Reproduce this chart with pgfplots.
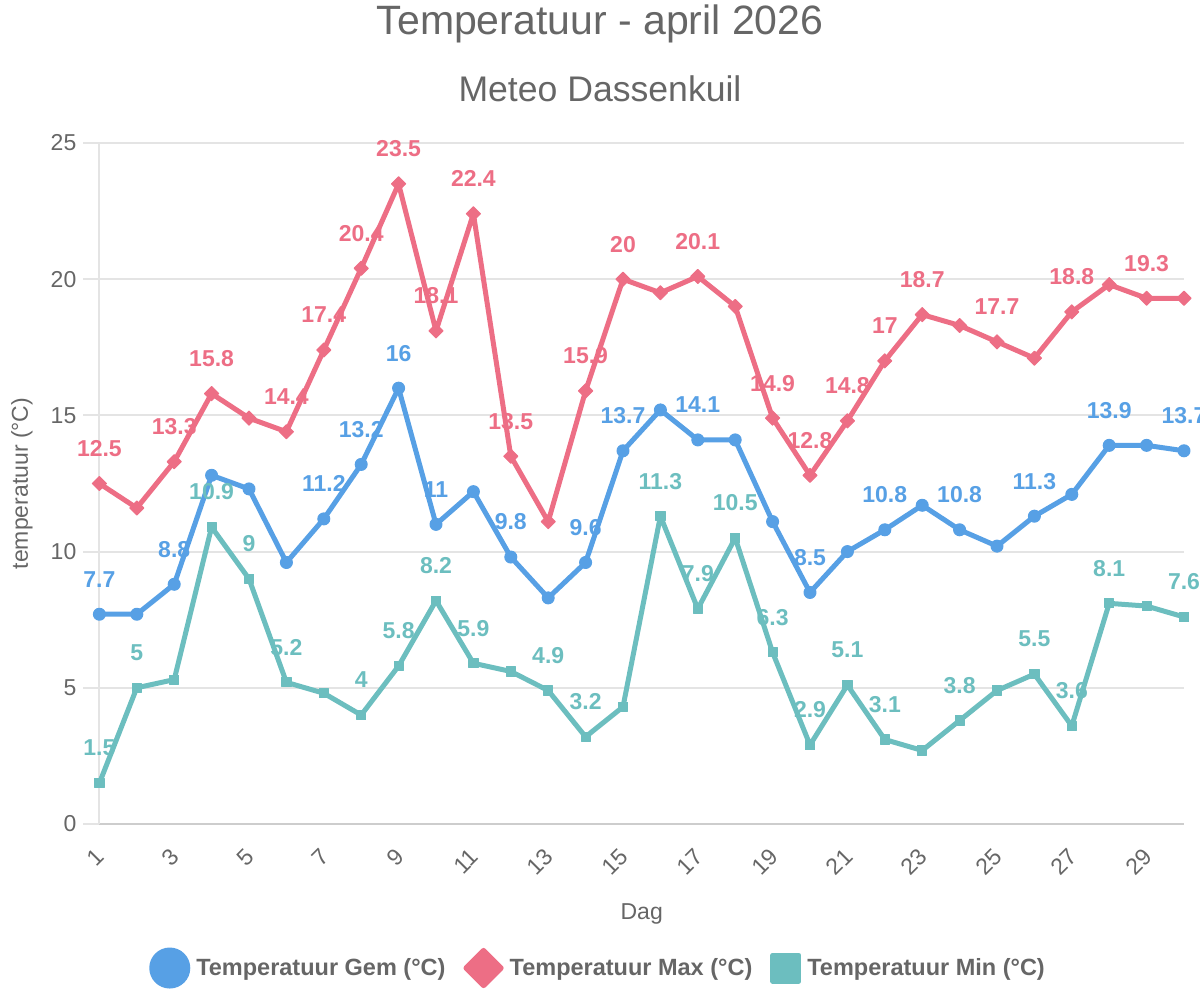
\documentclass[border=0pt]{standalone}
\usepackage{pgfplots}
\pgfplotsset{compat=1.18}
\usepackage{pgfplotstable}
\usepackage{fontspec}
\setmainfont{Liberation Sans}

\definecolor{cgem}{RGB}{87,160,229}
\definecolor{cmax}{RGB}{237,110,133}
\definecolor{cmin}{RGB}{108,190,191}
\definecolor{ctext}{RGB}{102,102,102}
\definecolor{cgrid}{RGB}{228,228,228}
\definecolor{caxis}{RGB}{205,205,205}

% day, temperature, lab = 1 where the value is printed above the point
\pgfplotstableread{
dag temp lab
1  7.7  1
2  7.7  0
3  8.8  1
4  12.8 0
5  12.3 0
6  9.6  0
7  11.2 1
8  13.2 1
9  16   1
10 11   1
11 12.2 0
12 9.8  1
13 8.3  0
14 9.6  1
15 13.7 1
16 15.2 0
17 14.1 1
18 14.1 0
19 11.1 0
20 8.5  1
21 10.0 0
22 10.8 1
23 11.7 0
24 10.8 1
25 10.2 0
26 11.3 1
27 12.1 0
28 13.9 1
29 13.9 0
30 13.7 1
}\gemtable

\pgfplotstableread{
dag temp lab
1  12.5 1
2  11.6 0
3  13.3 1
4  15.8 1
5  14.9 0
6  14.4 1
7  17.4 1
8  20.4 1
9  23.5 1
10 18.1 1
11 22.4 1
12 13.5 1
13 11.1 0
14 15.9 1
15 20   1
16 19.5 0
17 20.1 1
18 19.0 0
19 14.9 1
20 12.8 1
21 14.8 1
22 17   1
23 18.7 1
24 18.3 0
25 17.7 1
26 17.1 0
27 18.8 1
28 19.8 0
29 19.3 1
30 19.3 0
}\maxtable

\pgfplotstableread{
dag temp lab
1  1.5  1
2  5    1
3  5.3  0
4  10.9 1
5  9    1
6  5.2  1
7  4.8  0
8  4    1
9  5.8  1
10 8.2  1
11 5.9  1
12 5.6  0
13 4.9  1
14 3.2  1
15 4.3  0
16 11.3 1
17 7.9  1
18 10.5 1
19 6.3  1
20 2.9  1
21 5.1  1
22 3.1  1
23 2.7  0
24 3.8  1
25 4.9  0
26 5.5  1
27 3.6  1
28 8.1  1
29 8.0  0
30 7.6  1
}\mintable

\begin{document}
\begin{tikzpicture}
\useasboundingbox (0,0) rectangle (600pt,500pt);

\node[anchor=base, text=ctext, font=\fontsize{20.5}{24}\selectfont] at (300pt,482.5pt) {Temperatuur - april 2026};
\node[anchor=base, text=ctext, font=\fontsize{17.8}{21}\selectfont] at (300pt,449pt) {Meteo Dassenkuil};

\begin{axis}[
  at={(49.7pt,88pt)}, anchor=south west,
  scale only axis, width=542.3pt, height=340.5pt,
  xmin=1, xmax=30, ymin=0, ymax=25,
  clip=false,
  axis x line*=bottom, axis y line*=left,
  x axis line style={draw=caxis, line width=1pt},
  y axis line style={draw=cgrid, line width=1pt},
  xtick={1,3,...,29}, ytick={0,5,...,25},
  tick align=outside, major tick length=8pt,
  xtick style={draw=none},
  ytick style={draw=cgrid, line width=1pt},
  ymajorgrids, major grid style={draw=cgrid, line width=1pt},
  /pgf/number format/assume math mode=true,
  tick label style={text=ctext, font=\fontsize{11.5}{13}\selectfont},
  xticklabel style={xshift=3pt, yshift=-4pt, rotate=45, anchor=east},
  xlabel={Dag}, ylabel={temperatuur (°C)},
  every axis x label/.style={at={(axis description cs:0.5,0)}, anchor=base, yshift=-48pt, text=ctext, font=\fontsize{11.5}{13}\selectfont},
  every axis y label/.style={at={(axis description cs:0,0.5)}, xshift=-38.7pt, rotate=90, anchor=center, text=ctext, font=\fontsize{11.5}{13}\selectfont},
  line join=round,
  visualization depends on={\thisrow{lab}\as\lbl},
  nodes near coords={\ifdim\lbl pt>0.5pt \pgfmathprintnumber{\pgfplotspointmeta}\fi},
  every node near coord/.append style={anchor=center, yshift=17.5pt, font=\bfseries\fontsize{11.5}{13}\selectfont},
  legend columns=3,
  legend style={at={(0.4616,-0.2115)}, anchor=center, draw=none, fill=none,
    text=ctext, font=\bfseries\fontsize{11.75}{14}\selectfont,
    /tikz/every even column/.append style={column sep=6pt},
    nodes={inner xsep=3pt}},
]
\addplot[color=cgem, line width=2.5pt, mark=*, mark size=3pt,
  mark options={fill=cgem, draw=cgem, line width=0.5pt},
  every node near coord/.append style={text=cgem},
  legend image code/.code={\fill[cgem] (9pt,0pt) circle (9pt);}]
  table[x=dag, y=temp] {\gemtable};
\addlegendentry{Temperatuur Gem (°C)}

\addplot[color=cmax, line width=2.5pt, mark=square*, mark size=2.5pt,
  mark options={rotate=45, fill=cmax, draw=cmax, line width=0.5pt},
  every node near coord/.append style={text=cmax},
  legend image code/.code={\fill[cmax] (0pt,0pt) -- (8.8pt,8.8pt) -- (17.6pt,0pt) -- (8.8pt,-8.8pt) -- cycle;}]
  table[x=dag, y=temp] {\maxtable};
\addlegendentry{Temperatuur Max (°C)}

\addplot[color=cmin, line width=2.5pt, mark=square*, mark size=2.3pt,
  mark options={fill=cmin, draw=cmin, line width=0.5pt},
  every node near coord/.append style={text=cmin},
  legend image code/.code={\fill[cmin] (0pt,-6.5pt) rectangle (13pt,6.5pt);}]
  table[x=dag, y=temp] {\mintable};
\addlegendentry{Temperatuur Min (°C)}
\end{axis}
\end{tikzpicture}
\end{document}
